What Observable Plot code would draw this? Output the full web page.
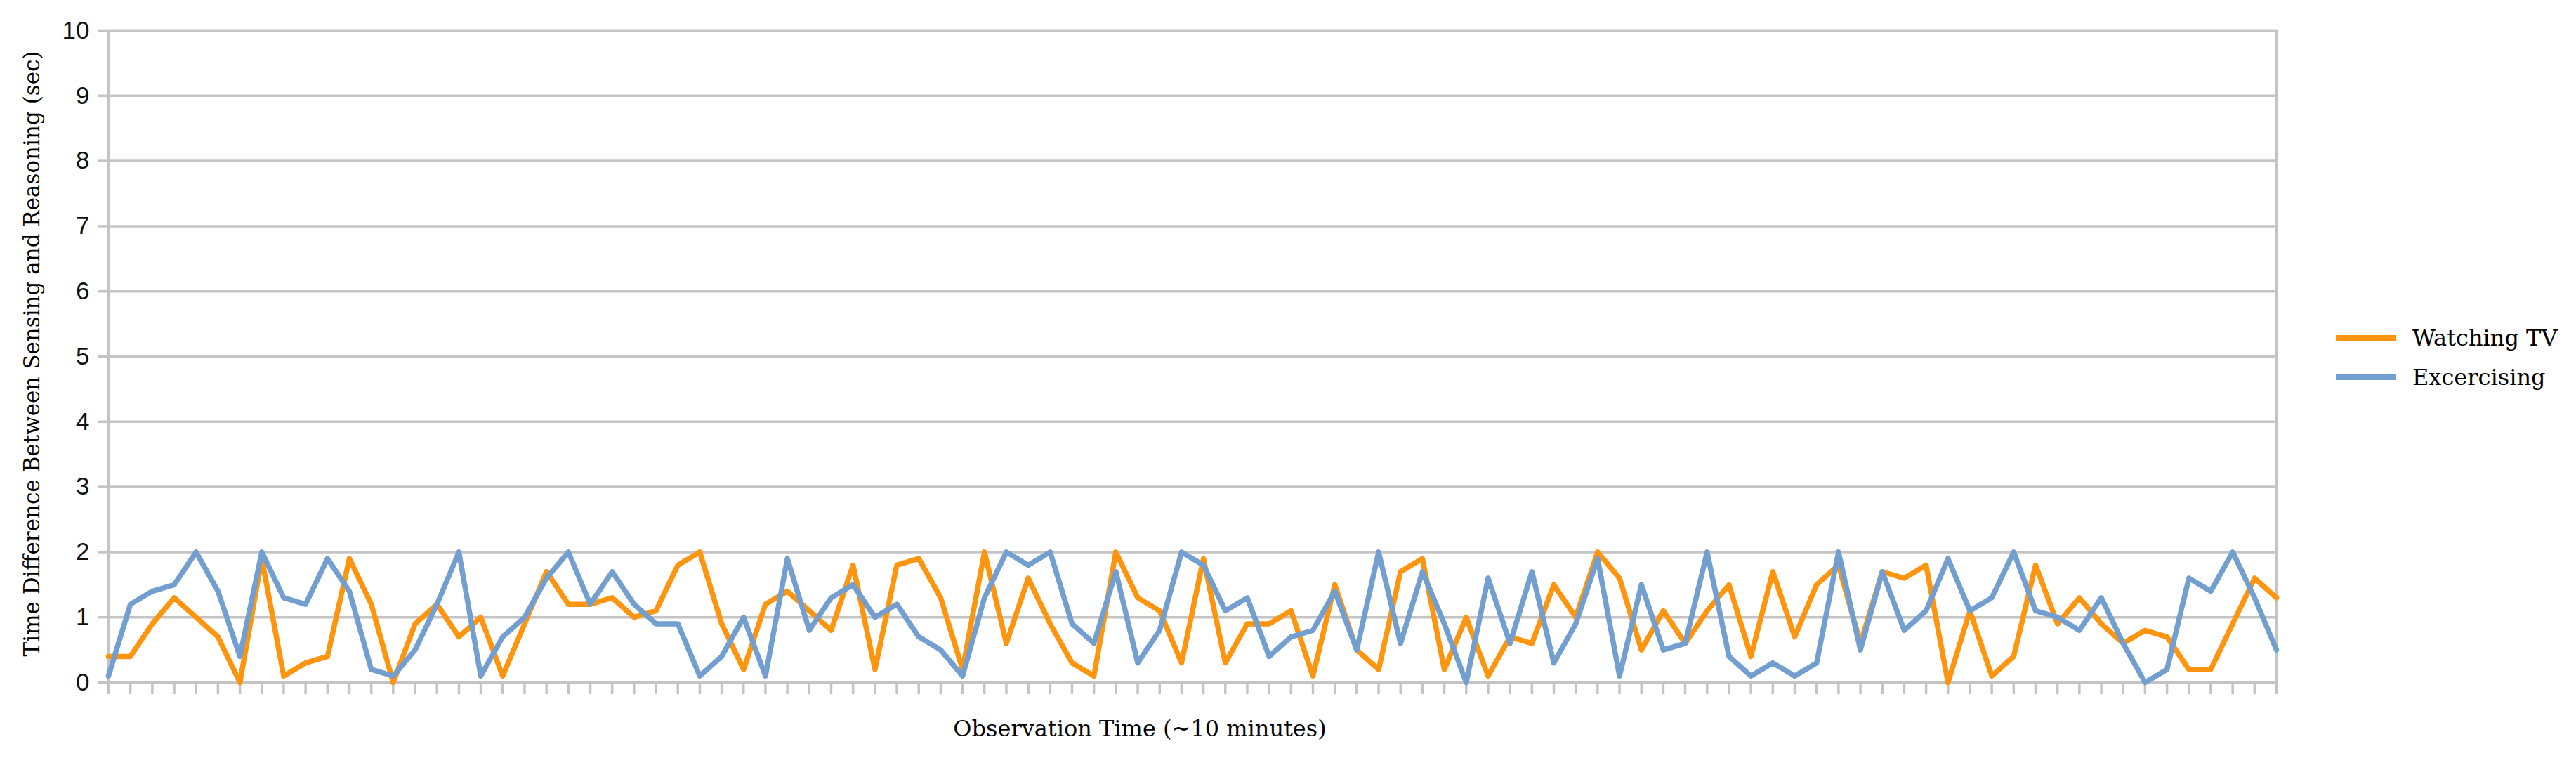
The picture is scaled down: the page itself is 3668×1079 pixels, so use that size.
<!DOCTYPE html>
<html>
<head>
<meta charset="utf-8">
<script src="https://cdn.jsdelivr.net/npm/d3@7"></script>
<script src="https://cdn.jsdelivr.net/npm/@observablehq/plot@0.6"></script>
<style>
  html, body { margin: 0; padding: 0; background: #fff; }
  #wrap { position: relative; width: 3668px; height: 1079px; overflow: hidden; }
  #legend { position: absolute; left: 3326px; top: 453px; font-family: "DejaVu Serif", serif; font-size: 32px; color: #000; }
  .item { display: flex; align-items: center; height: 56px; }
  .swatch { display: inline-block; width: 86px; height: 8px; margin-right: 23px; }
</style>
</head>
<body>
<div id="wrap"></div>
<script>
// ---- data ----
const seriesNames = ["Watching TV", "Excercising"];
const seriesColors = ["#ff950e", "#729fcf"];
const watchingTV = [
  0.4,0.4,0.9,1.3,1.0,0.7,0.0,1.9,0.1,0.3,0.4,1.9,1.2,0.0,0.9,1.2,0.7,
  1.0,0.1,0.9,1.7,1.2,1.2,1.3,1.0,1.1,1.8,2.0,0.9,0.2,1.2,1.4,1.1,0.8,
  1.8,0.2,1.8,1.9,1.3,0.2,2.0,0.6,1.6,0.9,0.3,0.1,2.0,1.3,1.1,0.3,1.9,
  0.3,0.9,0.9,1.1,0.1,1.5,0.5,0.2,1.7,1.9,0.2,1.0,0.1,0.7,0.6,1.5,
  1.0,2.0,1.6,0.5,1.1,0.6,1.1,1.5,0.4,1.7,0.7,1.5,1.8,0.6,1.7,1.6,1.8,
  0.0,1.1,0.1,0.4,1.8,0.9,1.3,0.9,0.6,0.8,0.7,0.2,0.2,0.9,1.6,1.3
];
const excercising = [
  0.1,1.2,1.4,1.5,2.0,1.4,0.4,2.0,1.3,1.2,1.9,1.4,0.2,0.1,0.5,1.2,2.0,
  0.1,0.7,1.0,1.6,2.0,1.2,1.7,1.2,0.9,0.9,0.1,0.4,1.0,0.1,1.9,0.8,1.3,
  1.5,1.0,1.2,0.7,0.5,0.1,1.3,2.0,1.8,2.0,0.9,0.6,1.7,0.3,0.8,2.0,1.8,
  1.1,1.3,0.4,0.7,0.8,1.4,0.5,2.0,0.6,1.7,0.9,0.0,1.6,0.6,1.7,0.3,
  0.9,1.9,0.1,1.5,0.5,0.6,2.0,0.4,0.1,0.3,0.1,0.3,2.0,0.5,1.7,0.8,1.1,
  1.9,1.1,1.3,2.0,1.1,1.0,0.8,1.3,0.6,0.0,0.2,1.6,1.4,2.0,1.3,0.5
];
const observations = watchingTV.map((_, i) => i + 1);
const yTicks = [0,1,2,3,4,5,6,7,8,9,10];
const xLabel = "Observation Time (~10 minutes)";
const yLabel = "Time Difference Between Sensing and Reasoning (sec)";

const rows = observations.map((o, i) => ({obs: o, tv: watchingTV[i], ex: excercising[i]}));
const grid = "#c4c4c4";

const chart = Plot.plot({
  width: 3668,
  height: 1079,
  marginLeft: 154,
  marginRight: 427,
  marginTop: 43,
  marginBottom: 108,
  style: {background: "white", overflow: "visible"},
  x: {domain: [1, 100]},
  y: {domain: [0, 10]},
  marks: [
    Plot.gridY(yTicks, {stroke: grid, strokeOpacity: 1, strokeWidth: 3.5}),
    Plot.frame({stroke: grid, strokeWidth: 3.5}),
    Plot.axisY(yTicks, {
      tickSize: 15, tickPadding: 12, stroke: grid, strokeWidth: 3.5,
      fontSize: 35, fontFamily: "Liberation Sans, Arial, sans-serif", fill: "#111",
      label: null, tickFormat: d => String(d)
    }),
    Plot.axisX(observations, {
      tickSize: 17, stroke: grid, strokeWidth: 3.5, tickFormat: () => "", label: null
    }),
    Plot.lineY(rows, {x: "obs", y: "tv", stroke: seriesColors[0], strokeWidth: 7.5, strokeLinejoin: "round"}),
    Plot.lineY(rows, {x: "obs", y: "ex", stroke: seriesColors[1], strokeWidth: 7.5, strokeLinejoin: "round"}),
    Plot.text([yLabel], {frameAnchor: "left", textAnchor: "middle", lineAnchor: "middle", rotate: -90, dx: -108, dy: -4, fontFamily: "DejaVu Serif, serif", fontSize: 31, fill: "#000"}),
    Plot.text([xLabel], {frameAnchor: "bottom", textAnchor: "middle", lineAnchor: "middle", dy: 66, dx: -75, fontFamily: "DejaVu Serif, serif", fontSize: 32, fill: "#000"})
  ]
});

const wrap = document.getElementById("wrap");
wrap.appendChild(chart);

const legend = document.createElement("div");
legend.id = "legend";
seriesNames.forEach((name, i) => {
  const item = document.createElement("div");
  item.className = "item";
  const sw = document.createElement("span");
  sw.className = "swatch";
  sw.style.background = seriesColors[i];
  const label = document.createElement("span");
  label.textContent = name;
  item.appendChild(sw);
  item.appendChild(label);
  legend.appendChild(item);
});
wrap.appendChild(legend);
</script>
</body>
</html>
